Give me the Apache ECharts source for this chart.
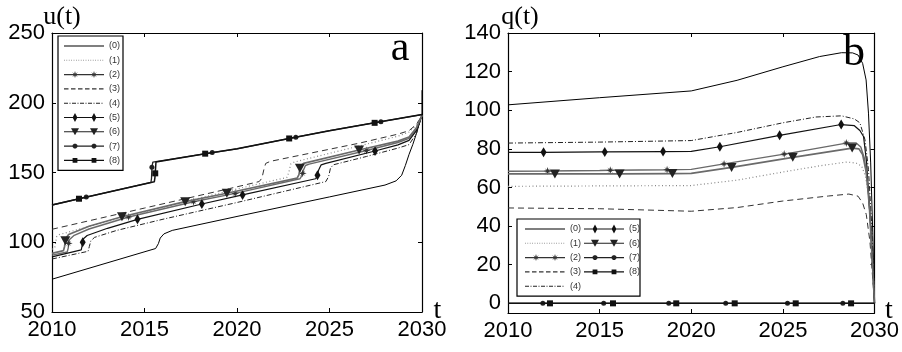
<!DOCTYPE html>
<html>
<head>
<meta charset="utf-8">
<script src="https://cdn.jsdelivr.net/npm/echarts@6/dist/echarts.min.js"></script>
<style>
  html, body { margin: 0; padding: 0; background: #fff; }
  #chart { width: 902px; height: 352px; }
</style>
</head>
<body>
<div id="chart"></div>
<script>
// tick labels
const years = [2010, 2015, 2020, 2025, 2030];
const uTicks = [50, 100, 150, 200, 250];
const qTicks = [0, 20, 40, 60, 80, 100, 120, 140];
const names = ['(0)', '(1)', '(2)', '(3)', '(4)', '(5)', '(6)', '(7)', '(8)'];

// panel a: u(t), [year, value]
const u0 = [[2010,73.5],[2015.6,95.5],[2015.75,99],[2015.85,103],[2016.05,106],[2016.5,108.5],[2020,118.5],[2025,132.5],[2028,141],[2028.6,144],[2028.9,148],[2029.1,155],[2029.3,163],[2029.5,170],[2029.7,178],[2029.9,187],[2030,191],[2030,209]];
const u1 = [[2010,95],[2010.15,96],[2010.25,104],[2010.4,105.5],[2014,118.5],[2019.6,137],[2022.7,146.5],[2022.8,150],[2022.9,156],[2023.1,157.5],[2026.6,169],[2028.7,176],[2029.3,179],[2029.7,184],[2030,191]];
const u2 = [[2010,90.8],[2010.82,93],[2010.88,96],[2010.95,102],[2011.2,105],[2012,109.5],[2014.14,118.1],[2017.65,129],[2019.9,135],[2023.4,145.5],[2023.5,147.5],[2023.6,152],[2023.7,155],[2023.9,156],[2027,165.8],[2028.7,171.5],[2029.3,174.5],[2029.7,181],[2030,191]];
const u3 = [[2010,109.3],[2015,124.5],[2019.6,138.5],[2021.2,143.5],[2021.35,146],[2021.45,152],[2021.55,156.5],[2021.8,158],[2026.6,171],[2028.7,177.5],[2029.3,180],[2029.7,184.5],[2030,191]];
const u4 = [[2010,88],[2011.95,93.5],[2012.02,97],[2012.1,101],[2012.3,103.5],[2013.5,108.5],[2016,116.5],[2020,128.5],[2024.8,143.5],[2024.95,147],[2025.05,153],[2025.2,155.5],[2027,161.5],[2028.7,167.5],[2029.3,170],[2029.7,178],[2030,191]];
const u5 = [[2010,89.5],[2011.58,94.5],[2011.63,97.5],[2011.7,102.5],[2011.9,104.8],[2013,110],[2014.62,116.4],[2018.1,127.4],[2020.3,133.9],[2024.25,145.5],[2024.32,147],[2024.42,152],[2024.55,155.5],[2024.8,156.5],[2027.46,165.4],[2028.7,169.8],[2029.3,173],[2029.7,180],[2030,191]];
const u6 = [[2010,92],[2010.62,94],[2010.68,97],[2010.76,103],[2010.9,105.5],[2012,111.5],[2013.78,118.3],[2017.2,129.1],[2019.45,135.1],[2023.25,146],[2023.35,148.5],[2023.45,155],[2023.6,156.5],[2026.6,166.1],[2028.7,172.5],[2029.3,175.5],[2029.7,182],[2030,191]];
const u7 = [[2010,126.7],[2015.35,143],[2015.38,146],[2015.45,157.5],[2015.55,158],[2020,167],[2025,180],[2030,191.5]];
const u8 = [[2010,126.7],[2015.53,143.3],[2015.56,146],[2015.62,157.5],[2015.7,158],[2020,167],[2025,180],[2030,191.5]];

// marker positions, panel a
const u2Marks = [[2010.9,99.2],[2014.14,118.1],[2017.65,129],[2019.9,135],[2023.55,149.4],[2027,165.8]];
const u5Marks = [[2011.66,100],[2014.62,116.4],[2018.1,127.4],[2020.3,133.9],[2024.35,148],[2027.46,165.4]];
const u6Marks = [[2010.72,101],[2013.78,118.3],[2017.2,129.1],[2019.45,135.1],[2023.4,153],[2026.6,166.1]];
const u7Marks = [[2011.85,132.4],[2015.4,153.7],[2018.66,164.3],[2023.18,175.3],[2027.78,186.4]];
const u8Marks = [[2011.46,131.2],[2015.58,149.4],[2018.28,163.5],[2022.82,174.4],[2027.44,185.6]];

// panel b: q(t)
const q0 = [[2010,102.8],[2015,106.5],[2020,110],[2022.5,115.5],[2025,122.5],[2027,127.8],[2028.2,129.8],[2028.8,129.7],[2029.1,128.6],[2029.35,124.3],[2029.54,115.7],[2029.67,98.5],[2029.79,72.7],[2029.9,38],[2030,0]];
const q1 = [[2010,60.6],[2015,60.8],[2020,61],[2022.5,63.8],[2025,68],[2027,71.2],[2028.5,73.2],[2029,72.6],[2029.3,71],[2029.5,66],[2029.7,55],[2029.85,35],[2030,0]];
const q2 = [[2010,68.4],[2015,68.8],[2020,69.4],[2021.8,72.2],[2025.07,77.3],[2028.46,83],[2029,83],[2029.25,81],[2029.45,75],[2029.65,60],[2029.8,40],[2030,0]];
const q3 = [[2010,49.4],[2015,49],[2020,47.7],[2022.5,49.6],[2025,53],[2027.5,55.6],[2028.6,56.6],[2029.1,55.5],[2029.35,52],[2029.55,46],[2029.75,32],[2030,0]];
const q4 = [[2010,83],[2015,83.5],[2020,84.3],[2022.5,88.5],[2025,93.5],[2026.8,96.5],[2028.2,97.1],[2028.9,95.5],[2029.2,93.5],[2029.48,84.7],[2029.67,69.2],[2029.85,40],[2030,0]];
const q5 = [[2010,78.2],[2015,78.4],[2020,78.7],[2021.56,81.1],[2024.82,87],[2028.2,92.6],[2028.9,92],[2029.2,89.5],[2029.4,86.4],[2029.57,72.7],[2029.75,45],[2030,0]];
const q6 = [[2010,67],[2015,67],[2020,67.3],[2022.2,70.4],[2025.54,75.6],[2028.8,80.4],[2029.15,80],[2029.35,77],[2029.55,68],[2029.72,50],[2030,0]];
const q7 = [[2010,0],[2030,0]];
const q8 = [[2010,0],[2030,0]];

// marker positions, panel b
const q2Marks = [[2012.16,68.5],[2015.58,68.9],[2018.68,69.2],[2021.79,72.2],[2025.07,77.3],[2028.46,83]];
const q5Marks = [[2011.94,78.2],[2015.28,78.4],[2018.46,78.6],[2021.56,81.1],[2024.82,87],[2028.18,92.6]];
const q6Marks = [[2012.56,67],[2016.09,67],[2018.97,67.2],[2022.2,70.4],[2025.54,75.6],[2028.78,80.4]];
const q7Marks = [[2011.9,0],[2015.22,0],[2018.77,0],[2021.88,0],[2025.25,0],[2028.27,0]];
const q8Marks = [[2012.29,0],[2015.73,0],[2019.18,0],[2022.37,0],[2025.7,0],[2028.72,0]];

const star = 'path://M0 -10L2 -3L7 -7L3 -2L10 0L3 2L7 7L2 3L0 10L-2 3L-7 7L-3 2L-10 0L-3 -2L-7 -7L-2 -3Z';
const looks = [
    { color: '#000', width: 1, type: 'solid', symbol: 'none', dash: null, mark: null },
    { color: '#888', width: 1.2, type: [1, 2.5], symbol: 'none', dash: [0.8, 1.6], mark: null },
    { color: '#6a6a6a', width: 1.4, type: 'solid', symbol: star, size: 8, fill: '#333', dash: null, mark: 'star' },
    { color: '#333', width: 1, type: [6, 4], symbol: 'none', dash: [4.5, 2.5], mark: null },
    { color: '#222', width: 1, type: [5, 2, 1, 2], symbol: 'none', dash: [4, 1.5, 1, 1.5], mark: null },
    { color: '#111', width: 1.2, type: 'solid', symbol: 'diamond', size: [6, 10], fill: '#111', dash: null, mark: 'diamond' },
    { color: '#6a6a6a', width: 1.7, type: 'solid', symbol: 'triangle', rotate: 180, size: [10, 9], fill: '#222', dash: null, mark: 'tri' },
    { color: '#222', width: 1.3, type: 'solid', symbol: 'circle', size: 5, fill: '#222', dash: null, mark: 'circle' },
    { color: '#111', width: 1.5, type: 'solid', symbol: 'rect', size: 6, fill: '#111', dash: null, mark: 'rect' }
];

// legend sample: line (as thin filled bars) plus two markers, in a 40x10 box
function legendIcon(lk) {
    const W = 40, h = 1.1;
    const bar = (a, b) => `M${a} ${5 - h / 2}L${b} ${5 - h / 2}L${b} ${5 + h / 2}L${a} ${5 + h / 2}Z`;
    let p = 'M0 0M40 10';
    if (!lk.dash) {
        p += bar(0, W);
    } else {
        let x = 0, k = 0;
        while (x < W) {
            const len = lk.dash[k % lk.dash.length];
            if (k % 2 === 0) p += bar(x, Math.min(W, x + len));
            x += len;
            k++;
        }
    }
    const mk = (c) => {
        switch (lk.mark) {
            case 'diamond': return `M${c} 0.5L${c + 2.4} 5L${c} 9.5L${c - 2.4} 5Z`;
            case 'tri': return `M${c - 4} 1.5L${c + 4} 1.5L${c} 8.5Z`;
            case 'rect': return `M${c - 2.4} 2.6L${c + 2.4} 2.6L${c + 2.4} 7.4L${c - 2.4} 7.4Z`;
            case 'circle': return `M${c - 1} 2.6L${c + 1} 2.6L${c + 2.4} 4L${c + 2.4} 6L${c + 1} 7.4L${c - 1} 7.4L${c - 2.4} 6L${c - 2.4} 4Z`;
            case 'star': return `M${c} 1.5L${c + 0.8} 4.2L${c + 2.8} 2.4L${c + 1.3} 4.6L${c + 3.5} 5L${c + 1.3} 5.4L${c + 2.8} 7.6L${c + 0.8} 5.8L${c} 8.5L${c - 0.8} 5.8L${c - 2.8} 7.6L${c - 1.3} 5.4L${c - 3.5} 5L${c - 1.3} 4.6L${c - 2.8} 2.4L${c - 0.8} 4.2Z`;
            default: return '';
        }
    };
    if (lk.mark) p += mk(11) + mk(30);
    return 'path://' + p;
}

function pts(line, marks) {
    const items = line.map((p) => ({ value: p, symbol: 'none' }));
    (marks || []).forEach((p) => items.push({ value: p }));
    return items.sort((a, b) => a.value[0] - b.value[0]);
}

const uLines = [u0, u1, u2, u3, u4, u5, u6, u7, u8];
const uMarks = [null, null, u2Marks, null, null, u5Marks, u6Marks, u7Marks, u8Marks];
const qLines = [q0, q1, q2, q3, q4, q5, q6, q7, q8];
const qMarks = [null, null, q2Marks, null, null, q5Marks, q6Marks, q7Marks, q8Marks];

function mkSeries(lines, marks, axis) {
    return lines.map((line, i) => {
        const lk = looks[i];
        return {
            name: names[i],
            type: 'line',
            xAxisIndex: axis,
            yAxisIndex: axis,
            data: pts(line, marks[i]),
            symbol: lk.symbol,
            symbolSize: lk.size || 6,
            symbolRotate: lk.rotate || 0,
            showSymbol: true,
            lineStyle: { color: lk.color, width: lk.width, type: lk.type },
            itemStyle: { color: lk.fill || lk.color },
            emphasis: { disabled: true },
            z: 2 + i
        };
    });
}

const font = 'Liberation Sans';
function xAx(grid, pos) {
    return {
        gridIndex: grid, type: 'value', position: pos,
        min: 2010, max: 2030, interval: 5,
        axisLine: { onZero: false, lineStyle: { color: '#000', width: 1.2 } },
        axisTick: { inside: true, length: 4, lineStyle: { color: '#000' }, customValues: years },
        axisLabel: {
            show: pos === 'bottom', fontSize: 22, color: '#000', fontFamily: font, margin: 7,
            customValues: years, formatter: (v) => String(v)
        },
        splitLine: { show: false }
    };
}
function yAx(grid, pos, min, max, ticks) {
    return {
        gridIndex: grid, type: 'value', position: pos, min: min, max: max,
        axisLine: { onZero: false, lineStyle: { color: '#000', width: 1.2 } },
        axisTick: { inside: true, length: 4, lineStyle: { color: '#000' }, customValues: ticks },
        axisLabel: { show: pos === 'left', fontSize: 22, color: '#000', fontFamily: font, margin: 7, customValues: ticks },
        splitLine: { show: false }
    };
}

const legendBase = {
    orient: 'vertical',
    selectedMode: false,
    itemWidth: 40,
    itemHeight: 10,
    itemGap: 4.3,
    symbolKeepAspect: false,
    itemStyle: { borderWidth: 0 },
    textStyle: { fontSize: 9, color: '#333', fontFamily: font }
};
const legendData = names.map((n, i) => ({ name: n, icon: legendIcon(looks[i]) }));

// centred text labels: x is the centre of the text
function label(txt, x, y, size) {
    return {
        text: txt, left: x, top: y, padding: 0, itemGap: 0,
        textAlign: 'center', textVerticalAlign: 'top',
        textStyle: { fontSize: size, fontFamily: 'Liberation Serif', fontWeight: 'normal', color: '#000', lineHeight: size }
    };
}

let chart = echarts.init(document.getElementById('chart'));

const option = {
    animation: false,
    backgroundColor: '#fff',
    title: [
        label('u(t)', 62, 4, 26),
        label('q(t)', 520, 4, 26),
        label('t', 437.5, 297, 28),
        label('t', 889, 297, 28),
        label('a', 400, 28, 42),
        label('b', 854, 31, 44)
    ],
    grid: [
        { left: 52, top: 33, width: 370, height: 279 },
        { left: 508, top: 33, width: 370, height: 280 }
    ],
    xAxis: [xAx(0, 'bottom'), xAx(0, 'top'), xAx(1, 'bottom'), xAx(1, 'top')],
    yAxis: [
        yAx(0, 'left', 50, 250, uTicks), yAx(0, 'right', 50, 250, uTicks),
        yAx(1, 'left', -5, 140, qTicks), yAx(1, 'right', -5, 140, qTicks)
    ],
    legend: [
        Object.assign({}, legendBase, {
            data: legendData, left: 58, top: 36,
            padding: [5, 3, 5, 6], borderColor: '#000', borderWidth: 1.2
        }),
        Object.assign({}, legendBase, {
            data: legendData.slice(0, 5), left: 517, top: 219,
            padding: [5, 59, 5, 8], borderColor: '#000', borderWidth: 1.2
        }),
        Object.assign({}, legendBase, {
            data: legendData.slice(5), left: 584, top: 219, padding: [5, 0, 5, 0]
        })
    ],
    series: mkSeries(uLines, uMarks, 0).concat(mkSeries(qLines, qMarks, 2))
};

option && chart.setOption(option);
window.addEventListener('resize', chart.resize);
</script>
</body>
</html>
